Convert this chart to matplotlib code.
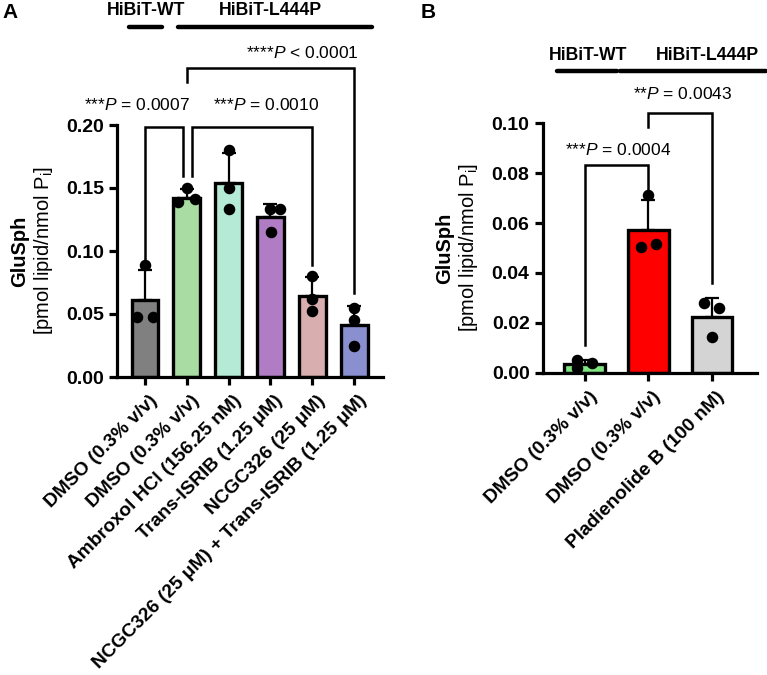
import numpy as np
import matplotlib
matplotlib.use('Agg')
import matplotlib.pyplot as plt
import matplotlib.transforms as mtransforms
from matplotlib.ticker import FormatStrFormatter

plt.rcParams['font.family'] = ['Liberation Sans', 'DejaVu Sans']
plt.rcParams['mathtext.fontset'] = 'custom'
plt.rcParams['mathtext.rm'] = 'Liberation Sans'
plt.rcParams['mathtext.it'] = 'Liberation Sans:italic'
plt.rcParams['mathtext.bf'] = 'Liberation Sans:bold'

# ---- panel A data ----
labels_a = ['DMSO (0.3% v/v)', 'DMSO (0.3% v/v)', 'Ambroxol HCl (156.25 nM)',
            'Trans-ISRIB (1.25 \u03bcM)', 'NCGC326 (25 \u03bcM)',
            'NCGC326 (25 \u03bcM) + Trans-ISRIB (1.25 \u03bcM)']
mean_a = [0.061, 0.142, 0.154, 0.127, 0.064, 0.041]
sd_a = [0.024, 0.007, 0.024, 0.010, 0.015, 0.015]
points_a = [[0.089, 0.048, 0.048],
            [0.150, 0.139, 0.141],
            [0.180, 0.150, 0.133],
            [0.133, 0.133, 0.115],
            [0.080, 0.062, 0.052],
            [0.055, 0.045, 0.025]]
colors_a = ['#808080', '#a8dca2', '#b4ead6', '#b07cc4', '#d8afae', '#8a8fcf']

# ---- panel B data ----
labels_b = ['DMSO (0.3% v/v)', 'DMSO (0.3% v/v)', 'Pladienolide B (100 nM)']
mean_b = [0.0034, 0.0571, 0.0224]
sd_b = [0.0017, 0.0120, 0.0076]
points_b = [[0.0051, 0.0018, 0.0038],
            [0.0711, 0.0504, 0.0515],
            [0.0278, 0.0260, 0.0144]]
colors_b = ['#80e680', '#ff0000', '#d4d4d4']

# horizontal spread of dots (layout only)
jit_a = [[0, -0.2, 0.2], [0, -0.2, 0.2], [0, 0, 0], [0, 0.22, 0.02], [0, 0, 0], [0, 0, 0]]
jit_b = [[-0.12, -0.12, 0.12], [0, -0.12, 0.12], [-0.13, 0.11, 0]]

W, H = 767, 675
fig = plt.figure(figsize=(W / 100, H / 100), dpi=100)


def px_axes(l, t, r, b):
    return fig.add_axes([l / W, 1 - b / H, (r - l) / W, (b - t) / H])


def draw_bars(ax, means, sds, pts, jit, colors, labels):
    x = np.arange(len(means))
    ax.bar(x, means, width=0.64, color=colors, edgecolor='black', linewidth=2.4, zorder=2)
    ax.errorbar(x, means, yerr=[np.zeros(len(sds)), sds], fmt='none', ecolor='black',
                elinewidth=1.6, capsize=5, capthick=1.6, zorder=3)
    for i, p in enumerate(pts):
        ax.plot(x[i] + np.array(jit[i]), p, 'o', color='black', ms=7.3, zorder=4, clip_on=False)
    for s in ['top', 'right']:
        ax.spines[s].set_visible(False)
    for s in ['left', 'bottom']:
        ax.spines[s].set_linewidth(2.3)
    ax.tick_params(width=2.3, length=6)
    ax.set_xticks(x)
    ax.set_xticklabels(labels, rotation=45, ha='right', rotation_mode='anchor',
                       fontsize=13.8, fontweight='bold')
    # nudge the rotated labels a little right, as in the original
    shift = mtransforms.ScaledTranslation(4 / 100, -2 / 100, fig.dpi_scale_trans)
    for t in ax.get_xticklabels():
        t.set_transform(t.get_transform() + shift)
    for t in ax.get_yticklabels():
        t.set_fontweight('bold')
        t.set_fontsize(14)


def bracket(ax, x1, x2, ytop, yl, yr, text, tx, ty):
    ax.plot([x1, x1, x2, x2], [yl, ytop, ytop, yr], color='black', lw=1.8,
            clip_on=False, solid_joinstyle='miter')
    ax.text(tx, ty, text, ha='center', va='center', fontsize=12.5)


def header(ax, x1, x2, y, text, tx, ty):
    ax.plot([x1, x2], [y, y], color='black', lw=3.2, solid_capstyle='round', clip_on=False)
    ax.text(tx, ty, text, ha='center', va='center', fontsize=12.7, fontweight='bold')


# ---- panel A ----
ax = px_axes(117, 125, 383, 377)
ax.set_ylim(0, 0.20)
ax.set_xlim(-0.67, 5.69)
ax.set_yticks([0, 0.05, 0.10, 0.15, 0.20])
ax.yaxis.set_major_formatter(FormatStrFormatter('%.2f'))
draw_bars(ax, mean_a, sd_a, points_a, jit_a, colors_a, labels_a)
bracket(ax, 0, 0.9, 0.1987, 0.093, 0.1595, '***$\\mathit{P}$ = 0.0007', -0.2, 0.216)
bracket(ax, 1.12, 4, 0.1987, 0.1595, 0.089, '***$\\mathit{P}$ = 0.0010', 2.9, 0.216)
bracket(ax, 1.0, 5, 0.2455, 0.2344, 0.067, '****$\\mathit{P}$ < 0.0001', 3.76, 0.257)
header(ax, -0.38, 0.41, 0.2778, 'HiBiT-WT', 0.02, 0.291)
header(ax, 0.79, 5.43, 0.2778, 'HiBiT-L444P', 3.0, 0.291)

fig.text(20 / W, 1 - 251 / H, 'GluSph', rotation=90, ha='center', va='center',
         fontsize=14.5, fontweight='bold')
fig.text(44 / W, 1 - 251 / H, '[pmol lipid/nmol P$_\\mathregular{i}$]', rotation=90,
         ha='center', va='center', fontsize=14.5)
fig.text(2 / W, 1 - 12 / H, 'A', ha='left', va='center', fontsize=15, fontweight='bold')

# ---- panel B ----
ax = px_axes(542.7, 123.3, 756.7, 372.7)
ax.set_ylim(0, 0.10)
ax.set_xlim(-0.66, 2.70)
ax.set_yticks([0, 0.02, 0.04, 0.06, 0.08, 0.10])
ax.yaxis.set_major_formatter(FormatStrFormatter('%.2f'))
draw_bars(ax, mean_b, sd_b, points_b, jit_b, colors_b, labels_b)
bracket(ax, 0, 1, 0.0831, 0.0111, 0.072, '***$\\mathit{P}$ = 0.0004', 0.52, 0.0891)
bracket(ax, 1, 2, 0.104, 0.0984, 0.0359, '**$\\mathit{P}$ = 0.0043', 1.53, 0.1119)
header(ax, -0.44, 0.50, 0.1211, 'HiBiT-WT', 0.06, 0.127)
header(ax, 0.55, 2.84, 0.1211, 'HiBiT-L444P', 1.92, 0.127)

fig.text(445 / W, 1 - 248 / H, 'GluSph', rotation=90, ha='center', va='center',
         fontsize=14.5, fontweight='bold')
fig.text(469 / W, 1 - 248 / H, '[pmol lipid/nmol P$_\\mathregular{i}$]', rotation=90,
         ha='center', va='center', fontsize=14.5)
fig.text(421 / W, 1 - 12 / H, 'B', ha='left', va='center', fontsize=15, fontweight='bold')

fig.savefig('out.png', dpi=100)
